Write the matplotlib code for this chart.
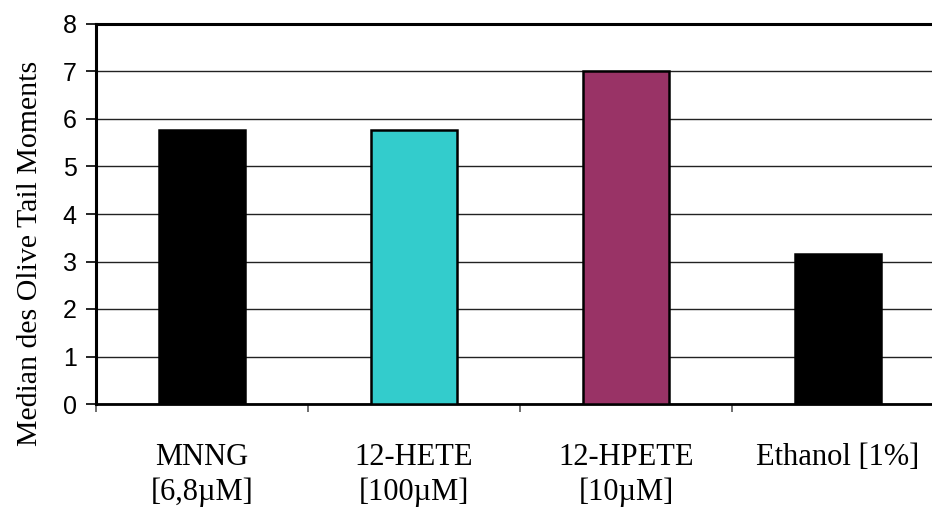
import matplotlib
matplotlib.use("Agg")
import matplotlib.pyplot as plt

categories = ["MNNG\n[6,8µM]", "12-HETE\n[100µM]", "12-HPETE\n[10µM]", "Ethanol [1%]"]
values = [5.77, 5.77, 7.0, 3.16]
colors = ["#000000", "#33CCCC", "#993366", "#000000"]
yticks = [0, 1, 2, 3, 4, 5, 6, 7, 8]
ylabel = "Median des Olive Tail Moments"

W, H = 932, 507
fig = plt.figure(figsize=(W / 100, H / 100), dpi=100)
left, right, top, bottom = 96, 944, 24, 404
ax = fig.add_axes([left / W, (H - bottom) / H, (right - left) / W, (bottom - top) / H])

x = list(range(len(categories)))
ax.bar(x, values, width=0.405, color=colors, edgecolor="black", linewidth=1.8, zorder=3)

ax.set_xlim(-0.5, len(categories) - 0.5)
ax.set_ylim(0, 8)
ax.set_yticks(yticks)
ax.set_yticklabels([str(t) for t in yticks], fontfamily="Liberation Sans", fontsize=18)
ax.yaxis.grid(True, color="#222222", linewidth=1.0, zorder=0)
ax.set_axisbelow(True)

# category boundary ticks
ax.set_xticks([i - 0.5 for i in range(len(categories))])
ax.set_xticklabels([])
ax.tick_params(axis="x", direction="out", length=6, width=1.2, color="#555555")
ax.tick_params(axis="y", direction="out", length=7, width=1.2, pad=7)

for i, lab in enumerate(categories):
    ax.text(i, -0.82, lab, ha="center", va="top", fontfamily="Liberation Serif",
            fontsize=22, linespacing=1.24, transform=ax.transData)

ax.spines["right"].set_visible(False)
ax.spines["left"].set_linewidth(2.2)
ax.spines["bottom"].set_linewidth(2.0)
ax.spines["top"].set_linewidth(2.2)
for s in ax.spines.values():
    s.set_color("black")

fig.text(30 / W, (H - 253) / H, ylabel, rotation=90, ha="center", va="center",
         fontfamily="Liberation Serif", fontsize=21.5)

fig.savefig("out.png", dpi=100)
